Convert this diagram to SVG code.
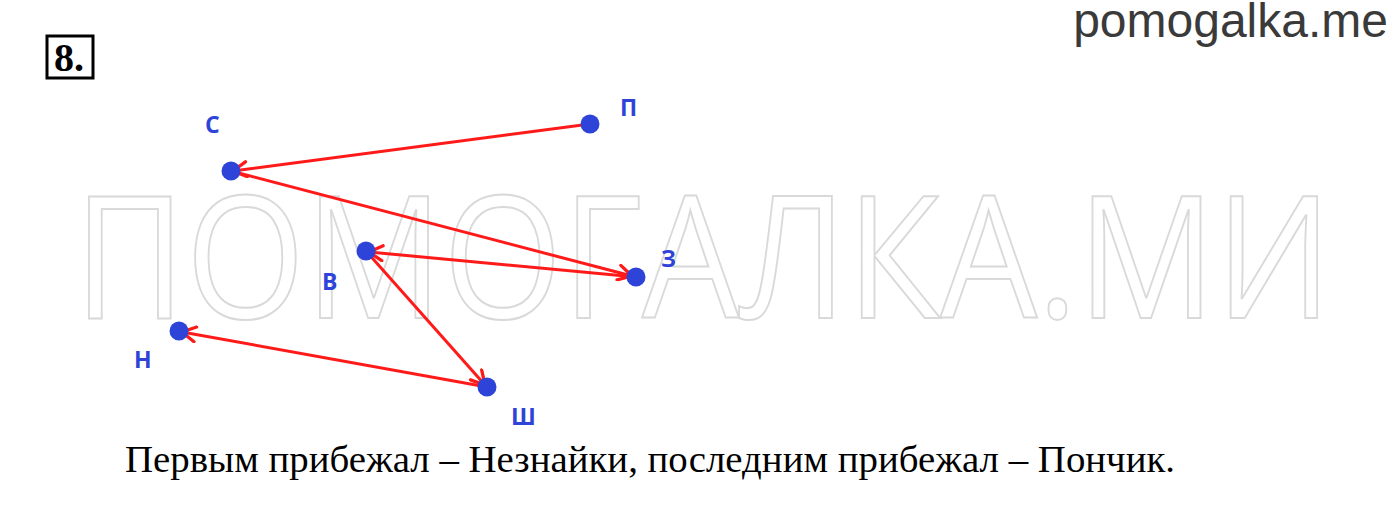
<svg xmlns="http://www.w3.org/2000/svg" width="1400" height="513" viewBox="0 0 1400 513">
<style>
.dot{fill:#2e44d8}
.lbl{font-family:"Open Sans","Liberation Sans",sans-serif;font-weight:bold;font-size:23px;fill:#2e44d8}
.edge{stroke:#ff1a1a;stroke-width:3;fill:none}
</style>
<defs>
<marker id="ah" viewBox="0 0 12 12" refX="11" refY="6" markerWidth="6" markerHeight="6" orient="auto" markerUnits="strokeWidth">
<path d="M2,1 L11,6 L2,11" fill="none" stroke="#ff1a1a" stroke-width="2.2" stroke-linecap="round" stroke-linejoin="round"/>
</marker>
</defs>
<rect width="1400" height="513" fill="#fff"/>
<text x="1388" y="37" text-anchor="end" font-family="Liberation Sans, Arial, sans-serif" font-size="48" fill="#3a3a3a">pomogalka.me</text>
<text x="74" y="318" font-family="Open Sans, Liberation Sans, sans-serif" font-size="170" fill="none" stroke="#d9d9d9" stroke-width="2" textLength="1258" lengthAdjust="spacingAndGlyphs">ПОМОГАЛКА.МИ</text>
<g id="num">
<rect x="47" y="36" width="46" height="42" fill="none" stroke="#000" stroke-width="3"/>
<text x="54" y="71" font-family="Liberation Serif, serif" font-weight="bold" font-size="40" fill="#000">8.</text>
</g>
<g id="connectors">
<line class="edge" x1="590" y1="124" x2="233" y2="171" marker-end="url(#ah)"/>
<line class="edge" x1="231" y1="171" x2="632" y2="276" marker-end="url(#ah)"/>
<line class="edge" x1="636" y1="277" x2="369" y2="252" marker-end="url(#ah)"/>
<line class="edge" x1="366" y1="251" x2="485" y2="385" marker-end="url(#ah)"/>
<line class="edge" x1="487" y1="387" x2="182" y2="332" marker-end="url(#ah)"/>
</g>
<g id="node-P"><circle class="dot" cx="590" cy="124" r="9.5"/><text class="lbl" x="620" y="116">П</text></g>
<g id="node-S"><circle class="dot" cx="231" cy="171" r="9.5"/><text class="lbl" x="205" y="133">С</text></g>
<g id="node-Z"><circle class="dot" cx="636" cy="277" r="9.5"/><text class="lbl" x="661" y="267">З</text></g>
<g id="node-V"><circle class="dot" cx="366" cy="251" r="9.5"/><text class="lbl" x="322" y="290">В</text></g>
<g id="node-N"><circle class="dot" cx="179" cy="331" r="9.5"/><text class="lbl" x="134" y="368">Н</text></g>
<g id="node-Sh"><circle class="dot" cx="487" cy="387" r="9.5"/><text class="lbl" x="511" y="425">Ш</text></g>
<text x="125" y="472" font-family="Liberation Serif, serif" font-size="38.5" fill="#000" textLength="1050" lengthAdjust="spacingAndGlyphs">Первым прибежал – Незнайки, последним прибежал – Пончик.</text>
</svg>
